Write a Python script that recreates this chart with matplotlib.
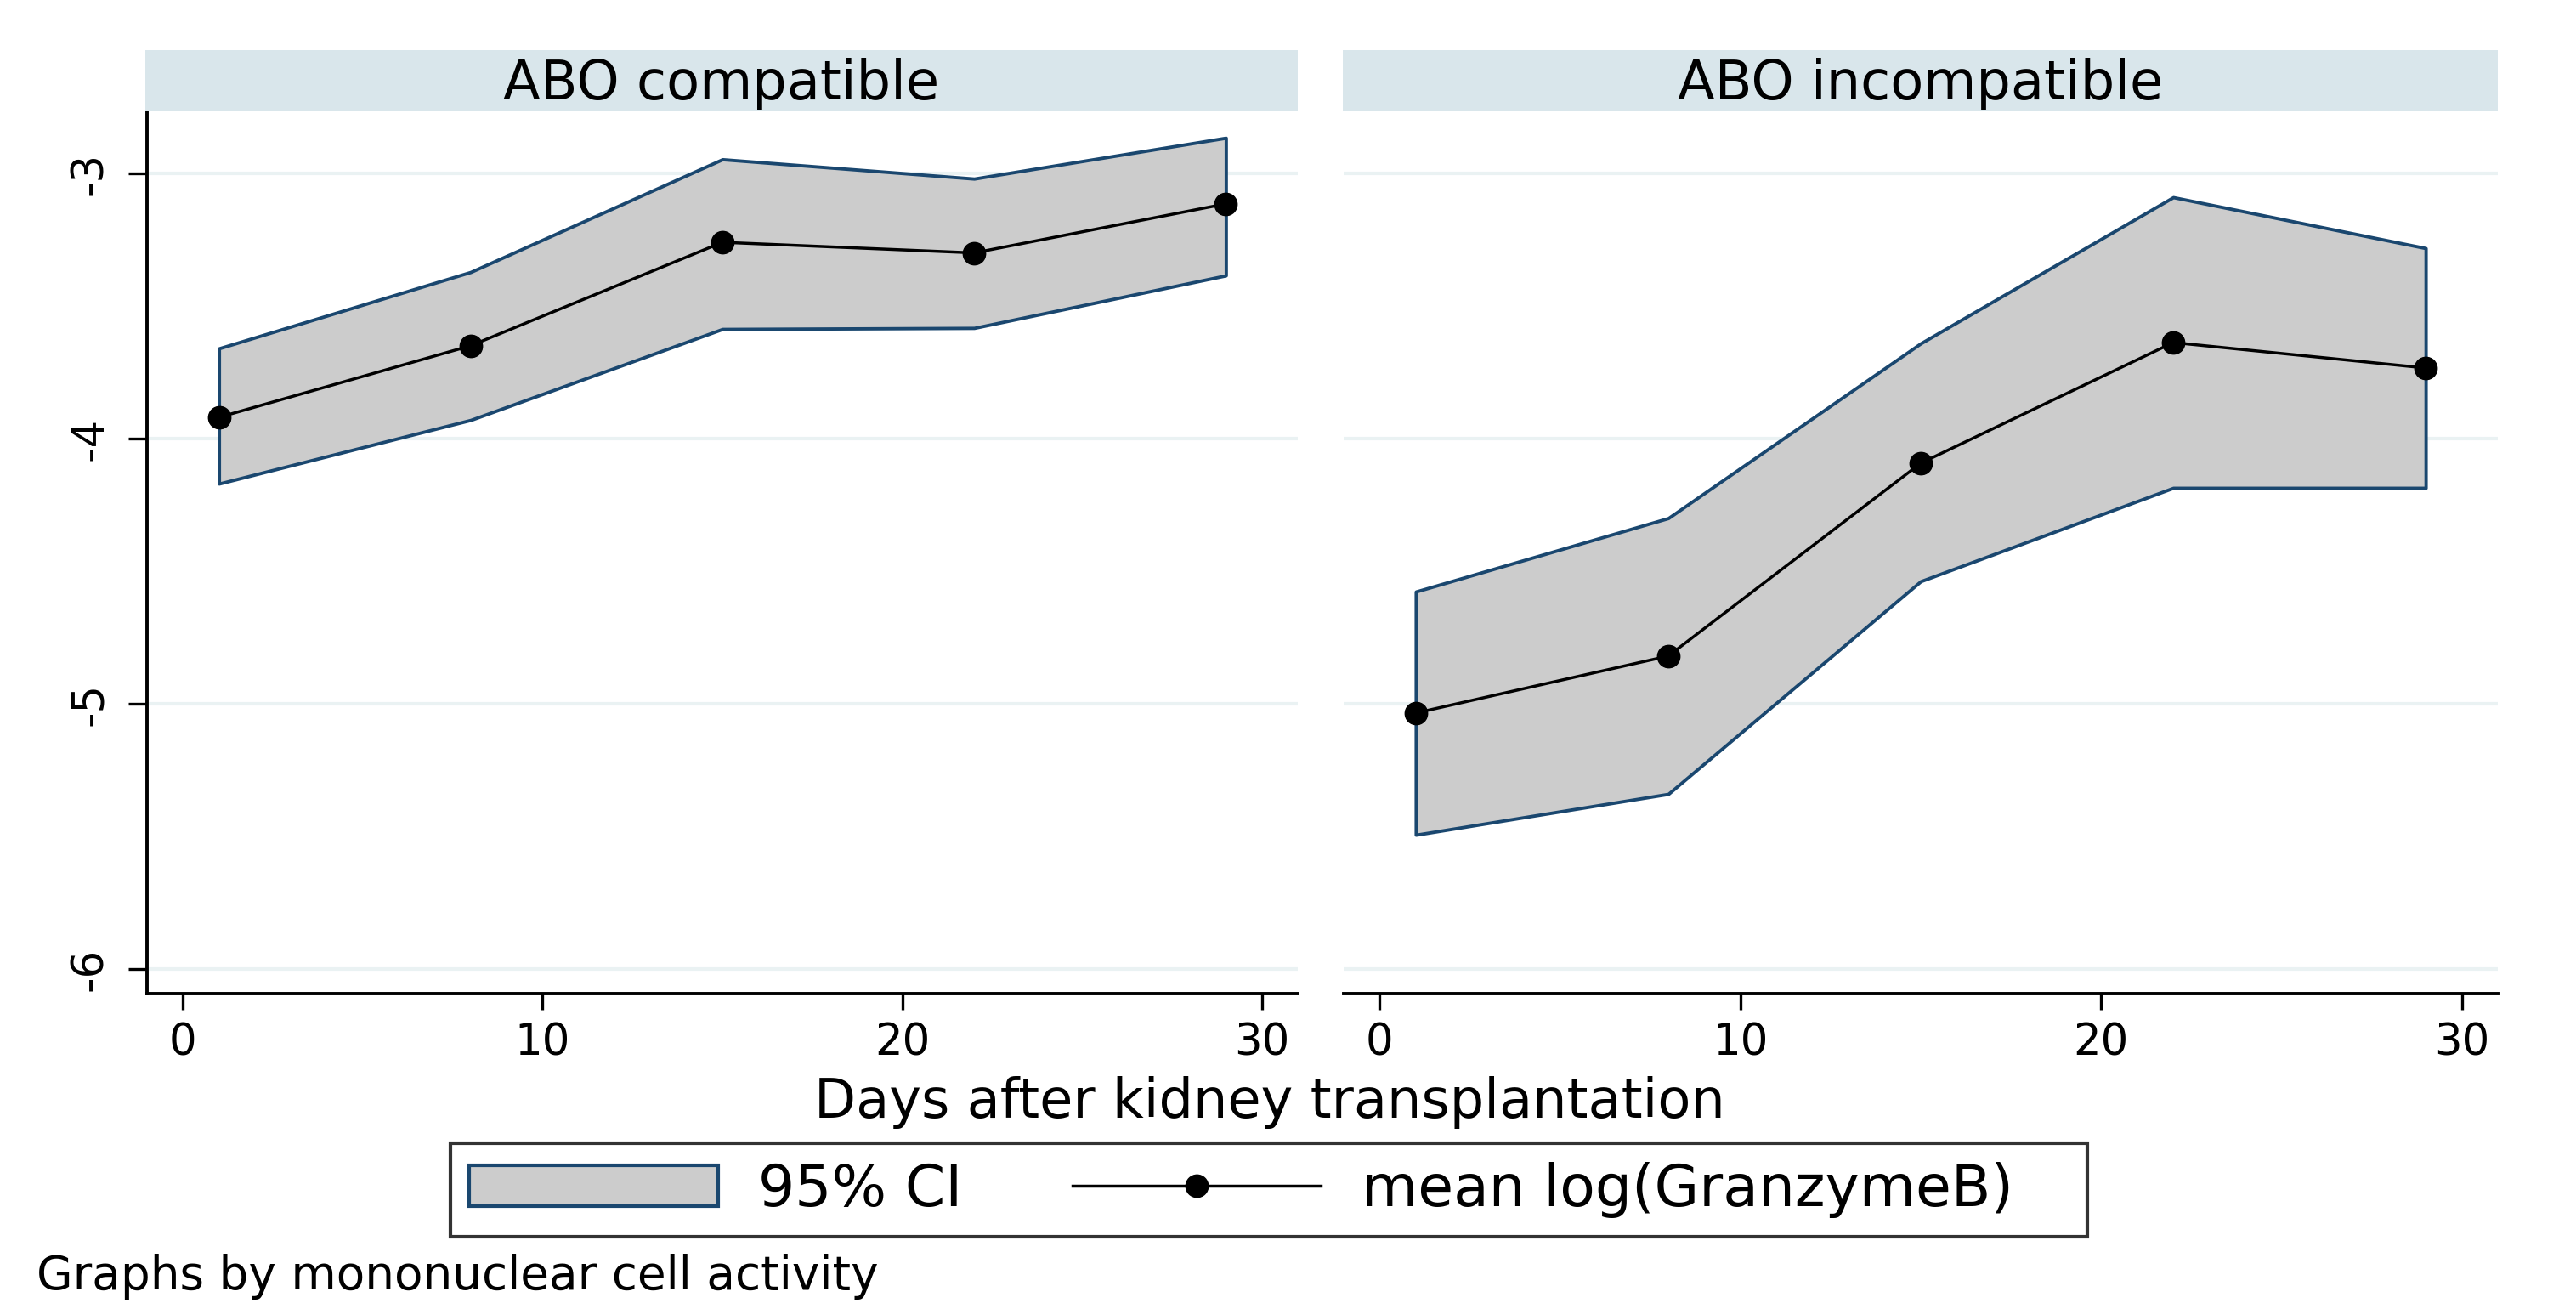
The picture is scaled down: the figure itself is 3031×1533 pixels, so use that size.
import matplotlib
matplotlib.use("Agg")
import matplotlib.pyplot as plt
from matplotlib.patches import Patch
from matplotlib.lines import Line2D

plt.rcParams['font.family'] = ['DejaVu Sans']

# data
days = [1, 8, 15, 22, 29]
panels = ['ABO compatible', 'ABO incompatible']
mean_comp = [-3.92, -3.65, -3.26, -3.30, -3.115]
lo_comp = [-4.17, -3.93, -3.587, -3.583, -3.385]
hi_comp = [-3.66, -3.372, -2.947, -3.02, -2.866]
mean_incomp = [-5.035, -4.82, -4.093, -3.638, -3.734]
lo_incomp = [-5.494, -5.34, -4.538, -4.186, -4.186]
hi_incomp = [-4.577, -4.30, -3.641, -3.09, -3.282]
yticks = [-3, -4, -5, -6]
xticks = [0, 10, 20, 30]

W, H = 3031, 1533
fig = plt.figure(figsize=(W / 100, H / 100), dpi=100)
fig.patch.set_facecolor('white')

fill_col = '#cccccc'
edge_col = '#1a476f'
grid_col = '#eaf2f3'
strip_col = '#d9e6eb'


def fx(px):
    return px / W


def fy(py):
    return 1 - py / H


axes_px = [(173, 1527), (1581, 2939)]
top_px, bot_px = 130, 1169
series = [(mean_comp, lo_comp, hi_comp), (mean_incomp, lo_incomp, hi_incomp)]

for i, ((x0, x1), (m, lo, hi), title) in enumerate(zip(axes_px, series, panels)):
    ax = fig.add_axes([fx(x0), fy(bot_px), fx(x1 - x0), (bot_px - top_px) / H])
    ax.set_xlim(-1, 31)
    ax.set_ylim(-6.093, -2.763)
    for yv in yticks:
        ax.axhline(yv, color=grid_col, lw=3, zorder=0)
    ax.fill_between(days, lo, hi, facecolor=fill_col, edgecolor=edge_col, linewidth=2.8, zorder=2)
    ax.plot(days, m, color='black', lw=2.5, marker='o', ms=19, zorder=3)

    ax.set_xticks(xticks)
    ax.tick_params(axis='x', length=14, width=2.4, labelsize=37, pad=10, color='black')
    for s in ['top', 'right']:
        ax.spines[s].set_visible(False)
    ax.spines['bottom'].set_linewidth(2.8)
    if i == 0:
        ax.set_yticks(yticks)
        ax.set_yticklabels([str(v) for v in yticks], rotation=90, va='center')
        ax.tick_params(axis='y', length=16, width=2.4, labelsize=37, pad=14)
        ax.spines['left'].set_linewidth(2.8)
    else:
        ax.set_yticks([])
        ax.spines['left'].set_visible(False)

    sx0 = x0 - 2 if i == 0 else x0 - 1
    sax = fig.add_axes([fx(sx0), fy(131), fx(x1 - sx0), 72 / H])
    sax.set_facecolor(strip_col)
    sax.set_xticks([])
    sax.set_yticks([])
    for s in sax.spines.values():
        s.set_visible(False)
    sax.text(0.5, 0.45, title, transform=sax.transAxes, ha='center', va='center', fontsize=46)

fig.text(fx(1494), fy(1297), 'Days after kidney transplantation', ha='center', va='center', fontsize=46)

handles = [
    Patch(facecolor=fill_col, edgecolor=edge_col, linewidth=3),
    Line2D([0], [0], color='black', lw=2.5, marker='o', ms=19),
]
# trailing spaces leave the empty room at the right end of the legend box
leg = fig.legend(handles, ['95% CI', 'mean log(GranzymeB)   '], loc='center',
                 bbox_to_anchor=(fx(1493), fy(1400)), ncol=2, fontsize=49,
                 frameon=True, fancybox=False, edgecolor='black', numpoints=1,
                 handlelength=4.3, handleheight=0.7, handletextpad=0.7,
                 columnspacing=1.9, borderpad=0.33)
leg.get_frame().set_linewidth(3)

fig.text(fx(43), fy(1502), 'Graphs by mononuclear cell activity', ha='left', va='center', fontsize=39.5)

fig.savefig('out.png', dpi=100, facecolor='white')
